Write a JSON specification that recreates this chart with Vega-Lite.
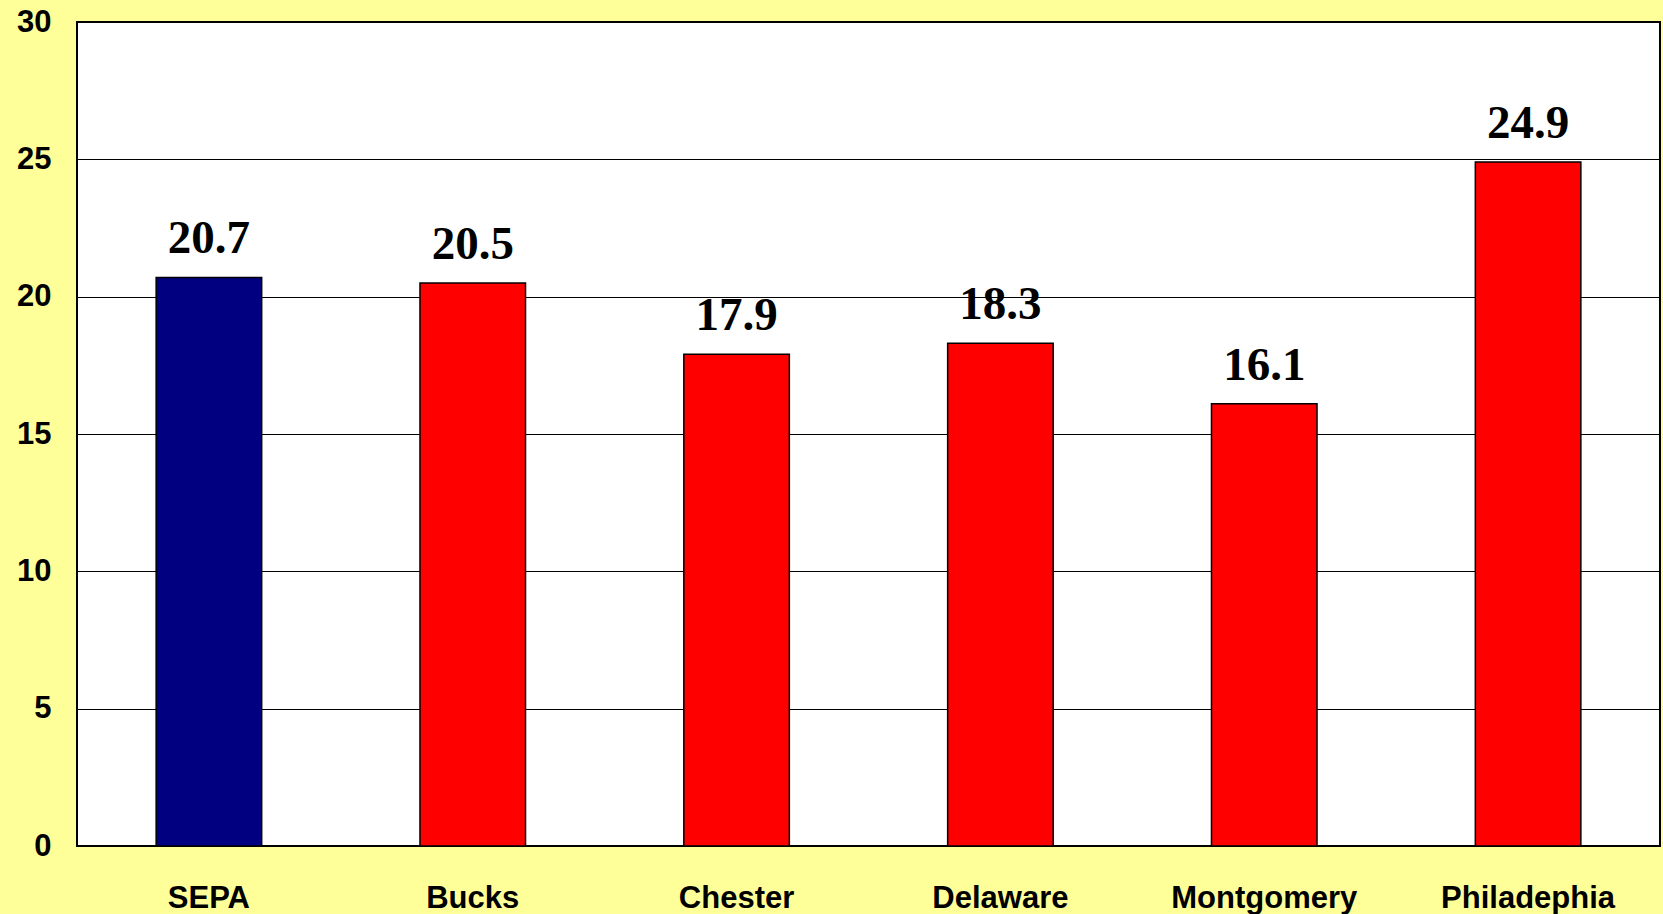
{
  "$schema": "https://vega.github.io/schema/vega-lite/v6.json",
  "width": 1583,
  "height": 824,
  "autosize": {"type": "none"},
  "padding": {"left": 77, "top": 22, "right": 3, "bottom": 68},
  "background": "#FFFF99",
  "view": {"fill": "#FFFFFF", "stroke": "#000000", "strokeWidth": 2},
  "data": {
    "values": [
      {"region": "SEPA", "value": 20.7},
      {"region": "Bucks", "value": 20.5},
      {"region": "Chester", "value": 17.9},
      {"region": "Delaware", "value": 18.3},
      {"region": "Montgomery", "value": 16.1},
      {"region": "Philadephia", "value": 24.9}
    ]
  },
  "encoding": {
    "x": {
      "field": "region",
      "type": "nominal",
      "sort": null,
      "scale": {"paddingInner": 0.6, "paddingOuter": 0.3},
      "axis": {
        "title": null,
        "labelAngle": 0,
        "labelFont": "Liberation Sans",
        "labelFontWeight": "bold",
        "labelFontSize": 31,
        "labelColor": "#000000",
        "labelBaseline": "alphabetic",
        "labelPadding": 61,
        "labelLimit": 0,
        "labelOverlap": false,
        "ticks": false,
        "domain": false
      }
    },
    "y": {
      "field": "value",
      "type": "quantitative",
      "scale": {"domain": [0, 30]},
      "axis": {
        "title": null,
        "values": [0, 5, 10, 15, 20, 25, 30],
        "labelFont": "Liberation Sans",
        "labelFontWeight": "bold",
        "labelFontSize": 31,
        "labelColor": "#000000",
        "labelPadding": 26,
        "ticks": false,
        "domain": false,
        "grid": true,
        "gridColor": "#000000",
        "gridWidth": 1.2,
        "gridOpacity": 1
      }
    }
  },
  "layer": [
    {
      "mark": {"type": "bar", "stroke": "#000000", "strokeWidth": 1.5},
      "encoding": {
        "color": {
          "condition": {"test": "datum.region === 'SEPA'", "value": "#000080"},
          "value": "#FF0000"
        }
      }
    },
    {
      "mark": {
        "type": "text",
        "font": "Liberation Serif",
        "fontWeight": "bold",
        "fontSize": 47,
        "baseline": "alphabetic",
        "dy": -24,
        "color": "#000000"
      },
      "encoding": {
        "text": {"field": "value", "type": "quantitative", "format": ".1f"}
      }
    }
  ]
}
